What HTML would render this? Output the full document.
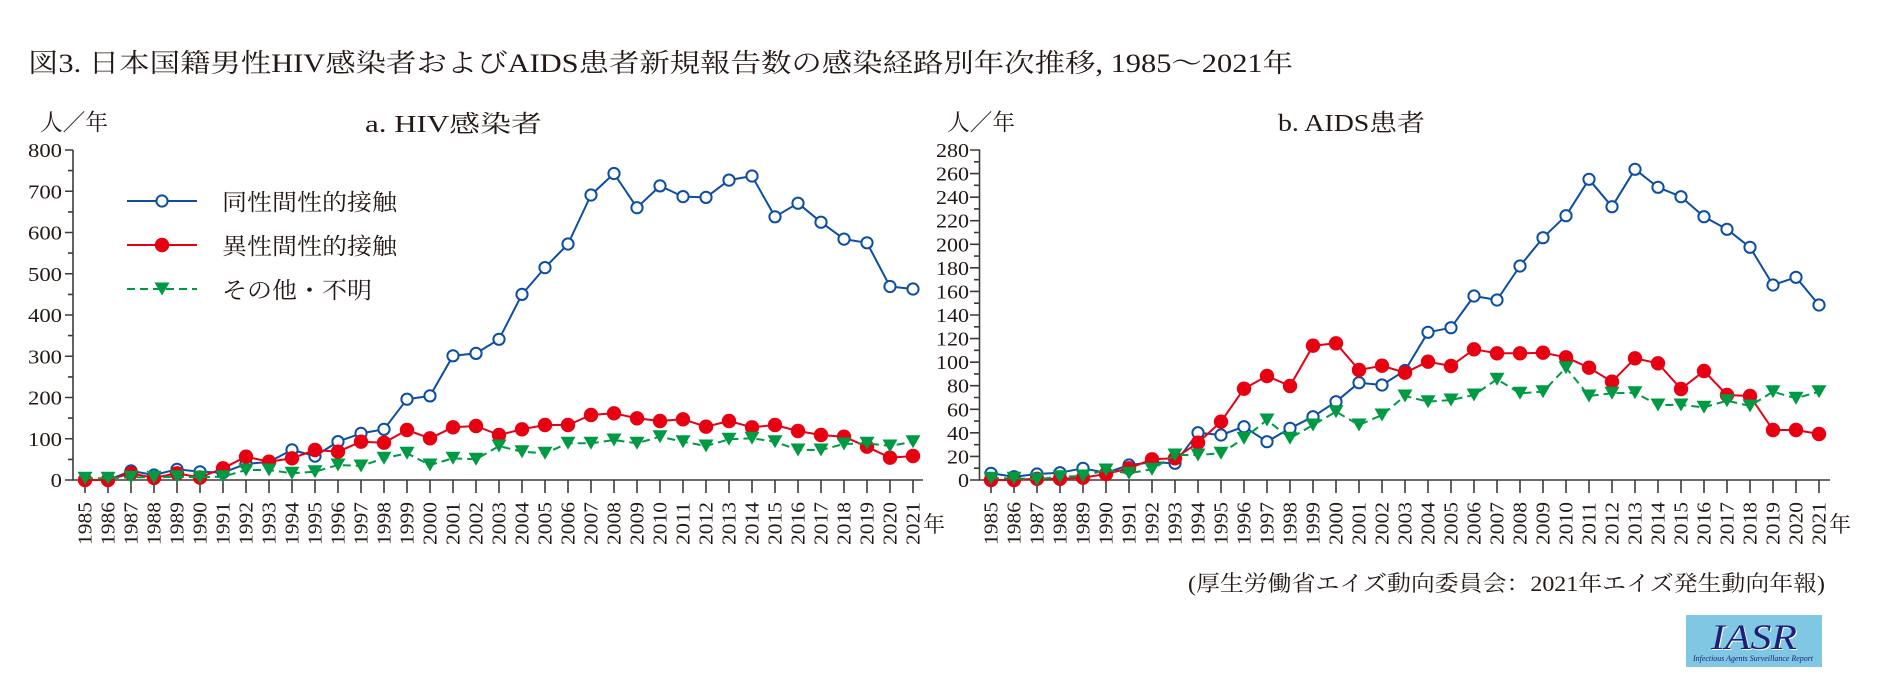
<!DOCTYPE html>
<html><head><meta charset="utf-8"><style>
html,body{margin:0;padding:0;background:#fff;}
svg{display:block;}
</style></head><body>
<svg width="1885" height="700" viewBox="0 0 1885 700" xmlns="http://www.w3.org/2000/svg">
<defs>
<marker id="mb" markerUnits="userSpaceOnUse" markerWidth="16" markerHeight="16" refX="8" refY="8" overflow="visible"><circle cx="8" cy="8" r="5.6" fill="#fff" stroke="#0c4ea2" stroke-width="2"/></marker>
<marker id="mr" markerUnits="userSpaceOnUse" markerWidth="16" markerHeight="16" refX="8" refY="8" overflow="visible"><circle cx="8" cy="8" r="7.2" fill="#e60012"/></marker>
<marker id="mg" markerUnits="userSpaceOnUse" markerWidth="16" markerHeight="16" refX="8" refY="7.5" overflow="visible"><path d="M0.5,1 L15.5,1 L8,14 Z" fill="#009944"/></marker>
</defs>
<g font-family="'Liberation Serif','Noto Serif CJK SC',serif" fill="#231815">
<text x="28" y="72" font-size="26" textLength="1265" lengthAdjust="spacingAndGlyphs">図3. 日本国籍男性HIV感染者およびAIDS患者新規報告数の感染経路別年次推移, 1985〜2021年</text>
<text x="40" y="130" font-size="23" textLength="68" lengthAdjust="spacingAndGlyphs">人／年</text>
<text x="365" y="132" font-size="24" textLength="177" lengthAdjust="spacingAndGlyphs">a. HIV感染者</text>
<text x="947" y="130" font-size="23" textLength="68" lengthAdjust="spacingAndGlyphs">人／年</text>
<text x="1278" y="131" font-size="24" textLength="147" lengthAdjust="spacingAndGlyphs">b. AIDS患者</text>
<text x="1188" y="591" font-size="22" textLength="637" lengthAdjust="spacingAndGlyphs">(厚生労働省エイズ動向委員会：2021年エイズ発生動向年報)</text>
<text x="923" y="532" font-size="22">年</text>
<text x="1829" y="532" font-size="22">年</text>
<!-- legend text -->
<text x="222" y="210" font-size="23" textLength="175" lengthAdjust="spacingAndGlyphs">同性間性的接触</text>
<text x="222" y="254" font-size="23" textLength="175" lengthAdjust="spacingAndGlyphs">異性間性的接触</text>
<text x="222" y="298" font-size="23" textLength="150" lengthAdjust="spacingAndGlyphs">その他・不明</text>
<!-- y tick labels left -->
<g font-size="20" text-anchor="end">
<text x="62" y="157" textLength="34" lengthAdjust="spacingAndGlyphs">800</text>
<text x="62" y="198.25" textLength="34" lengthAdjust="spacingAndGlyphs">700</text>
<text x="62" y="239.5" textLength="34" lengthAdjust="spacingAndGlyphs">600</text>
<text x="62" y="280.75" textLength="34" lengthAdjust="spacingAndGlyphs">500</text>
<text x="62" y="322" textLength="34" lengthAdjust="spacingAndGlyphs">400</text>
<text x="62" y="363.25" textLength="34" lengthAdjust="spacingAndGlyphs">300</text>
<text x="62" y="404.5" textLength="34" lengthAdjust="spacingAndGlyphs">200</text>
<text x="62" y="445.75" textLength="34" lengthAdjust="spacingAndGlyphs">100</text>
<text x="62" y="487" textLength="11.3" lengthAdjust="spacingAndGlyphs">0</text>
<!-- right -->
<text x="969" y="157" textLength="33" lengthAdjust="spacingAndGlyphs">280</text>
<text x="969" y="180.57" textLength="33" lengthAdjust="spacingAndGlyphs">260</text>
<text x="969" y="204.14" textLength="33" lengthAdjust="spacingAndGlyphs">240</text>
<text x="969" y="227.71" textLength="33" lengthAdjust="spacingAndGlyphs">220</text>
<text x="969" y="251.29" textLength="33" lengthAdjust="spacingAndGlyphs">200</text>
<text x="969" y="274.86" textLength="33" lengthAdjust="spacingAndGlyphs">180</text>
<text x="969" y="298.43" textLength="33" lengthAdjust="spacingAndGlyphs">160</text>
<text x="969" y="322" textLength="33" lengthAdjust="spacingAndGlyphs">140</text>
<text x="969" y="345.57" textLength="33" lengthAdjust="spacingAndGlyphs">120</text>
<text x="969" y="369.14" textLength="33" lengthAdjust="spacingAndGlyphs">100</text>
<text x="969" y="392.71" textLength="22" lengthAdjust="spacingAndGlyphs">80</text>
<text x="969" y="416.29" textLength="22" lengthAdjust="spacingAndGlyphs">60</text>
<text x="969" y="439.86" textLength="22" lengthAdjust="spacingAndGlyphs">40</text>
<text x="969" y="463.43" textLength="22" lengthAdjust="spacingAndGlyphs">20</text>
<text x="969" y="487" textLength="11" lengthAdjust="spacingAndGlyphs">0</text>
</g>
<!-- x year labels -->
<g font-size="20" transform="rotate(-90)">
<text x="-545" y="91.5" textLength="43" lengthAdjust="spacingAndGlyphs">1985</text>
<text x="-545" y="114.5" textLength="43" lengthAdjust="spacingAndGlyphs">1986</text>
<text x="-545" y="137.5" textLength="43" lengthAdjust="spacingAndGlyphs">1987</text>
<text x="-545" y="160.5" textLength="43" lengthAdjust="spacingAndGlyphs">1988</text>
<text x="-545" y="183.5" textLength="43" lengthAdjust="spacingAndGlyphs">1989</text>
<text x="-545" y="206.5" textLength="43" lengthAdjust="spacingAndGlyphs">1990</text>
<text x="-545" y="229.5" textLength="43" lengthAdjust="spacingAndGlyphs">1991</text>
<text x="-545" y="252.5" textLength="43" lengthAdjust="spacingAndGlyphs">1992</text>
<text x="-545" y="275.5" textLength="43" lengthAdjust="spacingAndGlyphs">1993</text>
<text x="-545" y="298.5" textLength="43" lengthAdjust="spacingAndGlyphs">1994</text>
<text x="-545" y="321.5" textLength="43" lengthAdjust="spacingAndGlyphs">1995</text>
<text x="-545" y="344.5" textLength="43" lengthAdjust="spacingAndGlyphs">1996</text>
<text x="-545" y="367.5" textLength="43" lengthAdjust="spacingAndGlyphs">1997</text>
<text x="-545" y="390.5" textLength="43" lengthAdjust="spacingAndGlyphs">1998</text>
<text x="-545" y="413.5" textLength="43" lengthAdjust="spacingAndGlyphs">1999</text>
<text x="-545" y="436.5" textLength="43" lengthAdjust="spacingAndGlyphs">2000</text>
<text x="-545" y="459.5" textLength="43" lengthAdjust="spacingAndGlyphs">2001</text>
<text x="-545" y="482.5" textLength="43" lengthAdjust="spacingAndGlyphs">2002</text>
<text x="-545" y="505.5" textLength="43" lengthAdjust="spacingAndGlyphs">2003</text>
<text x="-545" y="528.5" textLength="43" lengthAdjust="spacingAndGlyphs">2004</text>
<text x="-545" y="551.5" textLength="43" lengthAdjust="spacingAndGlyphs">2005</text>
<text x="-545" y="574.5" textLength="43" lengthAdjust="spacingAndGlyphs">2006</text>
<text x="-545" y="597.5" textLength="43" lengthAdjust="spacingAndGlyphs">2007</text>
<text x="-545" y="620.5" textLength="43" lengthAdjust="spacingAndGlyphs">2008</text>
<text x="-545" y="643.5" textLength="43" lengthAdjust="spacingAndGlyphs">2009</text>
<text x="-545" y="666.5" textLength="43" lengthAdjust="spacingAndGlyphs">2010</text>
<text x="-545" y="689.5" textLength="43" lengthAdjust="spacingAndGlyphs">2011</text>
<text x="-545" y="712.5" textLength="43" lengthAdjust="spacingAndGlyphs">2012</text>
<text x="-545" y="735.5" textLength="43" lengthAdjust="spacingAndGlyphs">2013</text>
<text x="-545" y="758.5" textLength="43" lengthAdjust="spacingAndGlyphs">2014</text>
<text x="-545" y="781.5" textLength="43" lengthAdjust="spacingAndGlyphs">2015</text>
<text x="-545" y="804.5" textLength="43" lengthAdjust="spacingAndGlyphs">2016</text>
<text x="-545" y="827.5" textLength="43" lengthAdjust="spacingAndGlyphs">2017</text>
<text x="-545" y="850.5" textLength="43" lengthAdjust="spacingAndGlyphs">2018</text>
<text x="-545" y="873.5" textLength="43" lengthAdjust="spacingAndGlyphs">2019</text>
<text x="-545" y="896.5" textLength="43" lengthAdjust="spacingAndGlyphs">2020</text>
<text x="-545" y="919.5" textLength="43" lengthAdjust="spacingAndGlyphs">2021</text>
<text x="-545" y="997.5" textLength="43" lengthAdjust="spacingAndGlyphs">1985</text>
<text x="-545" y="1020.5" textLength="43" lengthAdjust="spacingAndGlyphs">1986</text>
<text x="-545" y="1043.5" textLength="43" lengthAdjust="spacingAndGlyphs">1987</text>
<text x="-545" y="1066.5" textLength="43" lengthAdjust="spacingAndGlyphs">1988</text>
<text x="-545" y="1089.5" textLength="43" lengthAdjust="spacingAndGlyphs">1989</text>
<text x="-545" y="1112.5" textLength="43" lengthAdjust="spacingAndGlyphs">1990</text>
<text x="-545" y="1135.5" textLength="43" lengthAdjust="spacingAndGlyphs">1991</text>
<text x="-545" y="1158.5" textLength="43" lengthAdjust="spacingAndGlyphs">1992</text>
<text x="-545" y="1181.5" textLength="43" lengthAdjust="spacingAndGlyphs">1993</text>
<text x="-545" y="1204.5" textLength="43" lengthAdjust="spacingAndGlyphs">1994</text>
<text x="-545" y="1227.5" textLength="43" lengthAdjust="spacingAndGlyphs">1995</text>
<text x="-545" y="1250.5" textLength="43" lengthAdjust="spacingAndGlyphs">1996</text>
<text x="-545" y="1273.5" textLength="43" lengthAdjust="spacingAndGlyphs">1997</text>
<text x="-545" y="1296.5" textLength="43" lengthAdjust="spacingAndGlyphs">1998</text>
<text x="-545" y="1319.5" textLength="43" lengthAdjust="spacingAndGlyphs">1999</text>
<text x="-545" y="1342.5" textLength="43" lengthAdjust="spacingAndGlyphs">2000</text>
<text x="-545" y="1365.5" textLength="43" lengthAdjust="spacingAndGlyphs">2001</text>
<text x="-545" y="1388.5" textLength="43" lengthAdjust="spacingAndGlyphs">2002</text>
<text x="-545" y="1411.5" textLength="43" lengthAdjust="spacingAndGlyphs">2003</text>
<text x="-545" y="1434.5" textLength="43" lengthAdjust="spacingAndGlyphs">2004</text>
<text x="-545" y="1457.5" textLength="43" lengthAdjust="spacingAndGlyphs">2005</text>
<text x="-545" y="1480.5" textLength="43" lengthAdjust="spacingAndGlyphs">2006</text>
<text x="-545" y="1503.5" textLength="43" lengthAdjust="spacingAndGlyphs">2007</text>
<text x="-545" y="1526.5" textLength="43" lengthAdjust="spacingAndGlyphs">2008</text>
<text x="-545" y="1549.5" textLength="43" lengthAdjust="spacingAndGlyphs">2009</text>
<text x="-545" y="1572.5" textLength="43" lengthAdjust="spacingAndGlyphs">2010</text>
<text x="-545" y="1595.5" textLength="43" lengthAdjust="spacingAndGlyphs">2011</text>
<text x="-545" y="1618.5" textLength="43" lengthAdjust="spacingAndGlyphs">2012</text>
<text x="-545" y="1641.5" textLength="43" lengthAdjust="spacingAndGlyphs">2013</text>
<text x="-545" y="1664.5" textLength="43" lengthAdjust="spacingAndGlyphs">2014</text>
<text x="-545" y="1687.5" textLength="43" lengthAdjust="spacingAndGlyphs">2015</text>
<text x="-545" y="1710.5" textLength="43" lengthAdjust="spacingAndGlyphs">2016</text>
<text x="-545" y="1733.5" textLength="43" lengthAdjust="spacingAndGlyphs">2017</text>
<text x="-545" y="1756.5" textLength="43" lengthAdjust="spacingAndGlyphs">2018</text>
<text x="-545" y="1779.5" textLength="43" lengthAdjust="spacingAndGlyphs">2019</text>
<text x="-545" y="1802.5" textLength="43" lengthAdjust="spacingAndGlyphs">2020</text>
<text x="-545" y="1825.5" textLength="43" lengthAdjust="spacingAndGlyphs">2021</text>
</g>
</g>

<!-- axes -->
<g stroke="#3e3a39" stroke-width="1.6" fill="none">
<path d="M73,150 V480 H923"/>
<path d="M979.5,150 V480 H1830"/>
<!-- left y ticks -->
<path d="M65,480H73M68,459.4H73M65,438.75H73M68,418.1H73M65,397.5H73M68,376.9H73M65,356.25H73M68,335.6H73M65,315H73M68,294.4H73M65,273.75H73M68,253.1H73M65,232.5H73M68,211.9H73M65,191.25H73M68,170.6H73M65,150H73"/>
<!-- right y ticks -->
<path d="M970,480H980M974,468.21H980M970,456.43H980M974,444.64H980M970,432.86H980M974,421.07H980M970,409.29H980M974,397.5H980M970,385.71H980M974,373.93H980M970,362.14H980M974,350.36H980M970,338.57H980M974,326.79H980M970,315H980M974,303.21H980M970,291.43H980M974,279.64H980M970,267.86H980M974,256.07H980M970,244.29H980M974,232.5H980M970,220.71H980M974,208.93H980M970,197.14H980M974,185.36H980M970,173.57H980M974,161.79H980M970,150H980"/>
<!-- left x ticks -->
<path d="M85,480V493M108,480V493M131,480V493M154,480V493M177,480V493M200,480V493M223,480V493M246,480V493M269,480V493M292,480V493M315,480V493M338,480V493M361,480V493M384,480V493M407,480V493M430,480V493M453,480V493M476,480V493M499,480V493M522,480V493M545,480V493M568,480V493M591,480V493M614,480V493M637,480V493M660,480V493M683,480V493M706,480V493M729,480V493M752,480V493M775,480V493M798,480V493M821,480V493M844,480V493M867,480V493M890,480V493M913,480V493"/>
<!-- right x ticks -->
<path d="M991,480V493M1014,480V493M1037,480V493M1060,480V493M1083,480V493M1106,480V493M1129,480V493M1152,480V493M1175,480V493M1198,480V493M1221,480V493M1244,480V493M1267,480V493M1290,480V493M1313,480V493M1336,480V493M1359,480V493M1382,480V493M1405,480V493M1428,480V493M1451,480V493M1474,480V493M1497,480V493M1520,480V493M1543,480V493M1566,480V493M1589,480V493M1612,480V493M1635,480V493M1658,480V493M1681,480V493M1704,480V493M1727,480V493M1750,480V493M1773,480V493M1796,480V493M1819,480V493"/>
</g>

<!-- left series -->
<polyline fill="none" stroke="#0c4ea2" stroke-width="2" stroke-linejoin="round" marker-start="url(#mb)" marker-mid="url(#mb)" marker-end="url(#mb)" points="85,480 108,480 131,470.9 154,475 177,469.3 200,471.8 223,472.6 246,463.9 269,461.9 292,449.9 315,456.1 338,441.6 361,433.4 384,429.3 407,399.2 430,395.9 453,355.8 476,353.4 499,339.3 522,294.4 545,267.6 568,244 591,195 614,173.5 637,207.7 660,185.9 683,196.6 706,197.4 729,180.1 752,176 775,216.8 798,203.2 821,222.2 844,239.1 867,242.8 890,286.5 913,289"/>
<polyline fill="none" stroke="#e60012" stroke-width="2" stroke-linejoin="round" marker-start="url(#mr)" marker-mid="url(#mr)" marker-end="url(#mr)" points="85,480 108,480 131,473.3 154,477.9 177,473.3 200,477.5 223,468.3 246,456.7 269,461.7 292,458.3 315,450 338,451.7 361,441.7 384,442.7 407,430 430,438.3 453,427.3 476,426 499,435 522,429.3 545,425 568,425 591,415 614,413.3 637,418.3 660,421 683,419.3 706,426.7 729,421 752,427.3 775,425 798,431 821,435 844,436.7 867,446.7 890,457.7 913,456"/>
<polyline fill="none" stroke="#009944" stroke-width="2" stroke-dasharray="8,5" marker-start="url(#mg)" marker-mid="url(#mg)" marker-end="url(#mg)" points="85,478.3 108,478.3 131,477.3 154,477.3 177,476.7 200,477.3 223,476.7 246,470 269,470 292,473.3 315,471.7 338,465 361,466 384,458.3 407,453.3 430,465 453,458.3 476,459.3 499,446 522,451.7 545,453.3 568,443.3 591,443.3 614,440 637,443.3 660,436.7 683,441.7 706,446 729,439.3 752,438.3 775,441.7 798,450 821,450 844,444 867,443.3 890,446 913,441.7"/>

<!-- right series -->
<polyline fill="none" stroke="#0c4ea2" stroke-width="2" stroke-linejoin="round" marker-start="url(#mb)" marker-mid="url(#mb)" marker-end="url(#mb)" points="991,473.3 1014,476.7 1037,474 1060,472.7 1083,468.3 1106,472.9 1129,465 1152,462.3 1175,463.3 1198,432.7 1221,435 1244,426.7 1267,441.7 1290,428.3 1313,416.7 1336,401.7 1359,382.7 1382,385 1405,370.5 1428,332.3 1451,327.7 1474,296 1497,300 1520,266 1543,237.7 1566,215.7 1589,179.3 1612,206.7 1635,169.3 1658,187.3 1681,196.7 1704,216.7 1727,229.3 1750,247.3 1773,285 1796,277.3 1819,305"/>
<polyline fill="none" stroke="#e60012" stroke-width="2" stroke-linejoin="round" marker-start="url(#mr)" marker-mid="url(#mr)" marker-end="url(#mr)" points="991,480 1014,480 1037,478.8 1060,478.8 1083,477.7 1106,474 1129,468.3 1152,459.3 1175,458.3 1198,442.7 1221,421.7 1244,388.7 1267,376 1290,386 1313,345.7 1336,343.3 1359,370 1382,365.7 1405,372.7 1428,361.7 1451,366 1474,349.3 1497,353.3 1520,353.3 1543,352.7 1566,357.3 1589,367.7 1612,381.7 1635,358.3 1658,363.3 1681,389 1704,371 1727,395 1750,396 1773,430 1796,430 1819,434"/>
<polyline fill="none" stroke="#009944" stroke-width="2" stroke-dasharray="8,5" marker-start="url(#mg)" marker-mid="url(#mg)" marker-end="url(#mg)" points="991,478.3 1014,478.3 1037,479.3 1060,476.7 1083,476 1106,470 1129,473.3 1152,469.3 1175,455 1198,455 1221,453.3 1244,438.3 1267,420 1290,438.3 1313,425 1336,411.7 1359,425 1382,415 1405,396 1428,401.7 1451,400 1474,395 1497,379.3 1520,393.3 1543,391.7 1566,367.7 1589,396 1612,393.3 1635,392.7 1658,405 1681,405 1704,407.3 1727,400.7 1750,406 1773,391.7 1796,398.3 1819,391.7"/>

<!-- legend lines -->
<line x1="127" y1="201" x2="197" y2="201" stroke="#0c4ea2" stroke-width="2"/>
<circle cx="162" cy="201" r="5.6" fill="#fff" stroke="#0c4ea2" stroke-width="2"/>
<line x1="127" y1="245" x2="197" y2="245" stroke="#e60012" stroke-width="2"/>
<circle cx="162" cy="245" r="7.2" fill="#e60012"/>
<line x1="127" y1="289" x2="197" y2="289" stroke="#009944" stroke-width="2" stroke-dasharray="8,5"/>
<path d="M154.5,282.5 L169.5,282.5 L162,295.5 Z" fill="#009944"/>

<!-- IASR logo -->
<rect x="1686" y="615" width="136" height="52" fill="#7fc7e2"/>
<g font-family="'Liberation Serif',serif" font-style="italic">
<text x="1755" y="650" font-size="36" text-anchor="middle" fill="#ffffff" textLength="86" lengthAdjust="spacingAndGlyphs">IASR</text>
<text x="1754" y="649" font-size="36" text-anchor="middle" fill="#1c1f78" textLength="86" lengthAdjust="spacingAndGlyphs">IASR</text>
<text x="1693" y="661" font-size="8" fill="#1c1f78" textLength="120" lengthAdjust="spacingAndGlyphs">Infectious Agents Surveillance Report</text>
</g>
</svg>
</body></html>
